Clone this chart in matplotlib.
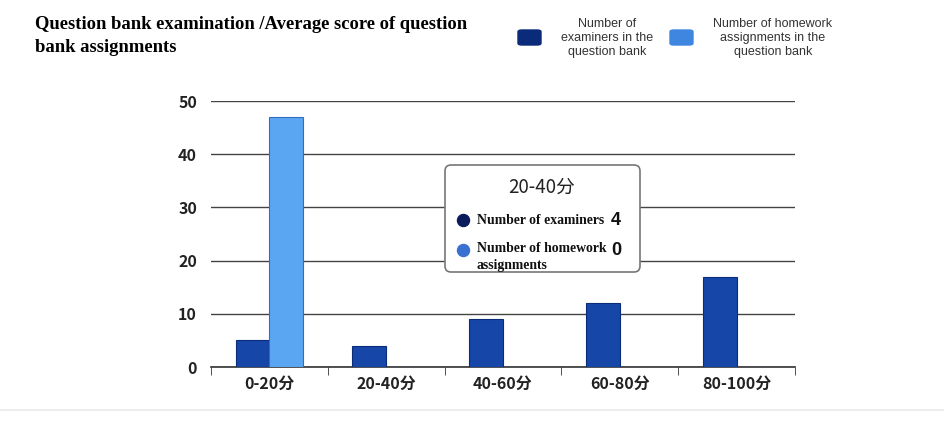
import matplotlib
matplotlib.use("Agg")
import matplotlib.pyplot as plt
from matplotlib.patches import FancyBboxPatch
import numpy as np

categories = ["0-20分", "20-40分", "40-60分", "60-80分", "80-100分"]
examiners = [5, 4, 9, 12, 17]
homework = [47, 0, 0, 0, 0]
yticks = [0, 10, 20, 30, 40, 50]

title = "Question bank examination /Average score of question\nbank assignments"
legend_labels = ["Number of\nexaminers in the\nquestion bank",
                 "Number of homework\nassignments in the\nquestion bank"]
tip_title = "20-40分"
tip_names = ["Number of examiners", "Number of homework\nassignments"]
tip_values = [examiners[1], homework[1]]

dark = "#1546a8"
light = "#5ba6f2"
cjk = ["Noto Sans CJK SC", "DejaVu Sans"]
serif = ["Liberation Serif", "DejaVu Serif"]
sans = ["Liberation Sans", "DejaVu Sans"]

W, H = 945, 444
fig = plt.figure(figsize=(W / 100, H / 100), dpi=100)

def fx(px):
    return px / W

def fy(py):
    return 1 - py / H

# main axes
ax = fig.add_axes([fx(211), fy(367), fx(795 - 211), (367 - 101) / H])
x = np.arange(len(categories))
bw = 0.29
ax.bar(x - bw / 2, examiners, bw, color=dark, edgecolor="#0b2c78", linewidth=0.8, zorder=3)
ax.bar(x + bw / 2, homework, bw, color=light, edgecolor="#2f6fc0", linewidth=0.8, zorder=3)
ax.set_xlim(-0.5, len(categories) - 0.5)
ax.set_ylim(0, 50)
ax.set_yticks(yticks)
ax.set_yticklabels([str(v) for v in yticks], fontfamily=cjk, fontsize=11.5,
                   fontweight="bold", color="#222222")
ax.set_xticks(x)
ax.set_xticklabels(categories, fontfamily=cjk, fontsize=11.5, fontweight="bold", color="#222222")
ax.set_xticks(np.arange(-0.5, len(categories)), minor=True)
ax.tick_params(axis="x", which="major", length=0, pad=6)
ax.tick_params(axis="x", which="minor", length=6, direction="out", color="#333333")
ax.tick_params(axis="y", length=0, pad=10)
ax.grid(axis="y", color="#444444", linewidth=1)
ax.set_axisbelow(True)
for s in ["top", "right", "left"]:
    ax.spines[s].set_visible(False)
ax.spines["bottom"].set_color("#333333")
ax.spines["bottom"].set_linewidth(1.2)

# title
fig.text(fx(35), fy(16), title, fontfamily=serif, fontweight="bold",
         fontsize=13.4, va="top", ha="left", linespacing=1.5)

# legend
for sx, col, lab, tx in [(518, "#0a2a7a", legend_labels[0], 607),
                         (670, "#3f86e0", legend_labels[1], 773)]:
    fig.patches.append(FancyBboxPatch((fx(sx), fy(45)), fx(23), (45 - 30) / H,
                                      boxstyle="round,pad=0,rounding_size=0.004",
                                      transform=fig.transFigure, color=col))
    fig.text(fx(tx), fy(38), lab, fontfamily=sans, fontsize=9, ha="center",
             va="center", color="#333333", linespacing=1.2)

# tooltip
tip = fig.add_axes([fx(443), fy(274), fx(199), 111 / H])
tip.set_xlim(0, 199)
tip.set_ylim(111, 0)
tip.axis("off")
tip.add_patch(FancyBboxPatch((2, 2), 195, 107, boxstyle="round,pad=0,rounding_size=6",
                             facecolor="white", edgecolor="#777777", linewidth=1.2))
tip.text(99, 24, tip_title, fontfamily=cjk, fontsize=13.5, fontweight="medium",
         ha="center", va="center", color="#222222")
tip.scatter([20], [57], s=75, color="#0a1a5a", zorder=3)
tip.scatter([20], [87], s=75, color="#3a70d0", zorder=3)
tip.text(34, 57, tip_names[0], fontfamily=serif, fontweight="bold", fontsize=9.9,
         ha="left", va="center", color="#111111")
tip.text(34, 79, tip_names[1], fontfamily=serif, fontweight="bold", fontsize=9.9,
         ha="left", va="top", color="#111111", linespacing=1.35)
tip.text(168, 57, str(tip_values[0]), fontfamily=sans, fontweight="bold", fontsize=13,
         ha="left", va="center", color="#111111")
tip.text(168, 87, str(tip_values[1]), fontfamily=sans, fontweight="bold", fontsize=13,
         ha="left", va="center", color="#111111")

# faint bottom line
fig.add_artist(plt.Line2D([fx(0), fx(945)], [fy(410), fy(410)], color="#eeeeee", linewidth=1.5))

fig.savefig("out.png", dpi=100)
